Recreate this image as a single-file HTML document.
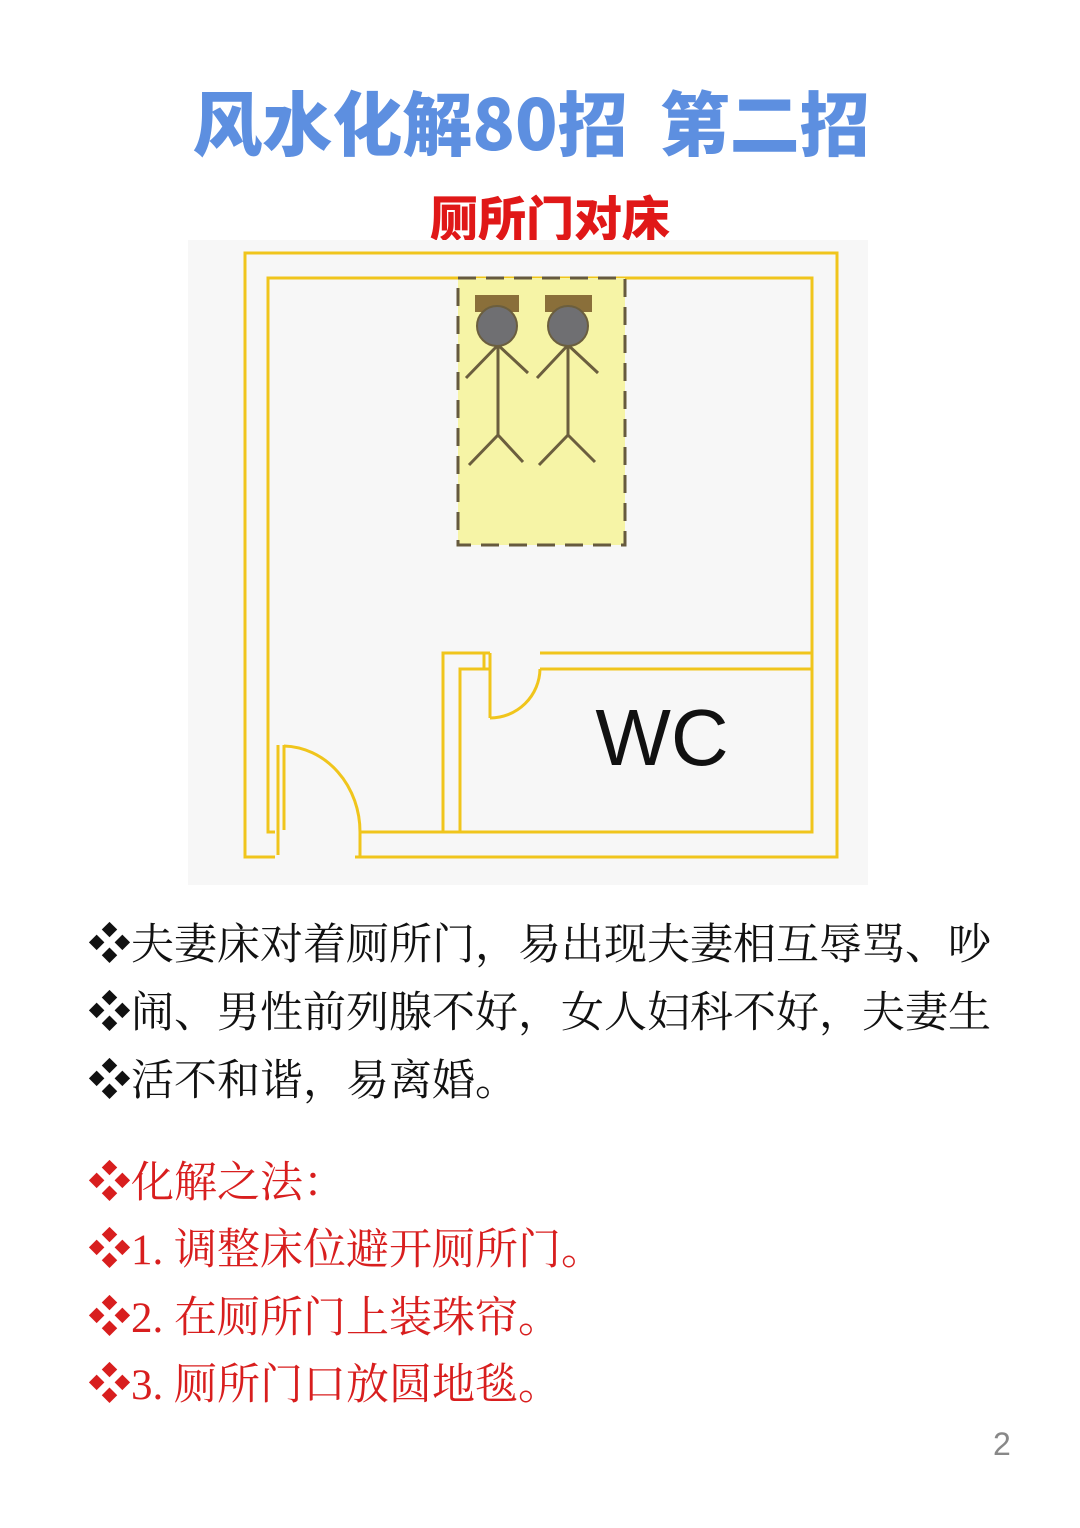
<!DOCTYPE html>
<html><head><meta charset="utf-8"><style>
html,body{margin:0;padding:0;background:#fff;}
body{width:1080px;height:1528px;position:relative;overflow:hidden;}
.t{position:absolute;white-space:nowrap;line-height:1;}
.title{left:0;width:1062px;text-align:center;top:70px;font:900 70px "Noto Sans CJK SC","WenQuanYi Zen Hei",sans-serif;color:#5d8fe0;}
.sub{left:0;width:1100px;text-align:center;top:180px;font:900 48px "Noto Sans CJK SC",sans-serif;color:#e01818;}
.b{left:88px;font-family:"Liberation Serif","Noto Serif CJK SC",serif;font-size:43px;color:#111;}
.r{color:#d81e1e;}
</style></head><body>
<div class="t title">风水化解80招&nbsp;&nbsp;第二招</div>
<div class="t sub">厕所门对床</div>
<svg style="position:absolute;left:0;top:0" width="1080" height="900">
<rect x="188" y="240" width="680" height="645" fill="#f7f7f7"/>
<g fill="none" stroke="#f0c51c" stroke-width="3">
<path d="M275 857 H245 V253 H837 V857 H355"/>
<path d="M275 832 H268 V278 H812 V832 H360"/>
<rect x="458" y="278" width="167" height="267" fill="#f6f4a6" stroke="#665a3e" stroke-dasharray="18,10"/>
<path d="M490 653 H443 V832"/><path d="M490 669 H460 V832"/>
<path d="M540 653 H812"/><path d="M540 669 H812"/>
<path d="M490 653 V718 M484 653 V669"/>
<path d="M490 718 A50 50 0 0 0 540 669"/>
<path d="M278 745 V855 M284 745 V830 M360 832 V857"/>
<path d="M284 746 A78 86 0 0 1 360 832"/>
</g>
<rect x="475" y="295" width="44" height="17" fill="#8a6f3a"/>
<rect x="545" y="295" width="47" height="17" fill="#8a6f3a"/>
<g stroke="#6b5e3e" stroke-width="3" fill="none">
<path d="M498 345 V435 M498 345 L466 378 M498 345 L528 373 M498 435 L469 465 M498 435 L523 462"/>
<path d="M568 345 V435 M568 345 L537 378 M568 345 L598 373 M568 435 L539 465 M568 435 L595 462"/>
</g>
<circle cx="497" cy="326" r="20" fill="#6f6f72" stroke="#6b5e3e" stroke-width="2"/>
<circle cx="568" cy="326" r="20" fill="#6f6f72" stroke="#6b5e3e" stroke-width="2"/>
<text x="662" y="765" text-anchor="middle" font-family="Liberation Sans,sans-serif" font-size="80" fill="#111">WC</text>
</svg>
<div class="t b" style="top:924px">❖夫妻床对着厕所门，易出现夫妻相互辱骂、吵</div>
<div class="t b" style="top:992px">❖闹、男性前列腺不好，女人妇科不好，夫妻生</div>
<div class="t b" style="top:1060px">❖活不和谐，易离婚。</div>
<div class="t b r" style="top:1162px">❖化解之法：</div>
<div class="t b r" style="top:1229px">❖1. 调整床位避开厕所门。</div>
<div class="t b r" style="top:1297px">❖2. 在厕所门上装珠帘。</div>
<div class="t b r" style="top:1364px">❖3. 厕所门口放圆地毯。</div>
<div class="t" style="left:993px;top:1426px;font:32px 'Liberation Sans',sans-serif;color:#888">2</div>
</body></html>
